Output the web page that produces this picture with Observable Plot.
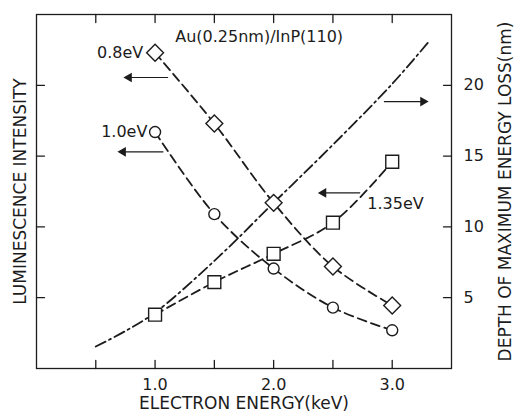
<!DOCTYPE html>
<html><head><meta charset="utf-8">
<script src="https://cdn.jsdelivr.net/npm/d3@7"></script>
<script src="https://cdn.jsdelivr.net/npm/@observablehq/plot@0.6"></script>
<style>body{margin:0;background:#fff}</style>
</head><body><div id="chart"></div>
<script>
// Electron energy (keV) at which luminescence was measured
const energies = [1.0, 1.5, 2.0, 2.5, 3.0];
// Luminescence intensity (arb. units) for each emission line
const intensity08 = [22.3, 17.3, 11.7, 7.2, 4.45];
const intensity10 = [16.7, 10.9, 7.06, 4.3, 2.7];
const intensity135 = [3.8, 6.1, 8.1, 10.3, 14.6];
// Depth of maximum energy loss (nm) vs electron energy
const depthEnergy = [0.5, 0.75, 1.0, 1.5, 2.0, 2.5, 3.0, 3.3];
const depthNm = [1.55, 2.65, 3.95, 7.6, 11.7, 15.8, 20.1, 23.0];
// ticks
const xTicks = [0.5, 1.0, 1.5, 2.0, 2.5, 3.0];
const xTickLabels = [1.0, 2.0, 3.0];
const yTicks = [5, 10, 15, 20];
// annotations
const labelText = ["0.8eV", "1.0eV", "1.35eV", "Au(0.25nm)/InP(110)"];
const labelX = [0.90, 0.935, 2.79, 1.17];
const labelY = [22.3, 16.7, 11.65, 23.4];
const labelAnchor = ["end", "end", "start", "start"];
const arrowX1 = [1.11, 1.07, 2.73, 2.93];
const arrowX2 = [0.78, 0.73, 2.42, 3.26];
const arrowY = [20.55, 15.3, 12.4, 18.85];

const s08 = energies.map((e, i) => ({x: e, y: intensity08[i]}));
const s10 = energies.map((e, i) => ({x: e, y: intensity10[i]}));
const s135 = energies.map((e, i) => ({x: e, y: intensity135[i]}));
const depth = depthEnergy.map((e, i) => ({x: e, y: depthNm[i]}));
const labels = labelText.map((t, i) => ({t, x: labelX[i], y: labelY[i], a: labelAnchor[i]}));
const arrows = arrowX1.map((x1, i) => ({x1, x2: arrowX2[i], y: arrowY[i]}));

const ink = "#1c1c1c";
const font = "DejaVu Sans";
const tickShape = {draw(context, l) { context.moveTo(0, 0); context.lineTo(0, -l); }};

const chart = Plot.plot({
  width: 521,
  height: 418,
  marginLeft: 36,
  marginRight: 70,
  marginTop: 14,
  marginBottom: 50,
  style: {fontFamily: font, fontSize: "16px", color: ink, background: "#fff"},
  x: {domain: [0, 3.5]},
  y: {domain: [0, 25]},
  marks: [
    Plot.frame({stroke: ink, strokeWidth: 1.3}),
    // inward ticks
    Plot.vector(xTicks, {x: d => d, y: 0, length: 8, rotate: 0, anchor: "start", shape: tickShape, stroke: ink, strokeWidth: 1.3}),
    Plot.vector(xTicks, {x: d => d, y: 25, length: 8, rotate: 180, anchor: "start", shape: tickShape, stroke: ink, strokeWidth: 1.3}),
    Plot.vector(yTicks, {x: 0, y: d => d, length: 8, rotate: 90, anchor: "start", shape: tickShape, stroke: ink, strokeWidth: 1.3}),
    Plot.vector(yTicks, {x: 3.5, y: d => d, length: 8, rotate: -90, anchor: "start", shape: tickShape, stroke: ink, strokeWidth: 1.3}),
    // tick labels
    Plot.axisX(xTickLabels, {anchor: "bottom", tickSize: 0, tickPadding: 10, tickFormat: d => d.toFixed(1), label: null, fontSize: 16, fill: ink}),
    Plot.axisY(yTicks, {anchor: "right", tickSize: 0, tickPadding: 12, label: null, fontSize: 16, fill: ink}),
    // axis titles
    Plot.text(["LUMINESCENCE INTENSITY"], {frameAnchor: "left", textAnchor: "middle", dx: -16, rotate: -90, fontSize: 17, fill: ink, text: d => d}),
    Plot.text(["DEPTH OF MAXIMUM ENERGY LOSS(nm)"], {frameAnchor: "right", textAnchor: "middle", dx: 54, rotate: -90, fontSize: 17, fill: ink, text: d => d}),
    Plot.text(["ELECTRON ENERGY(keV)"], {frameAnchor: "bottom", textAnchor: "middle", dy: 40, fontSize: 17, fill: ink, text: d => d}),
    // curves
    Plot.line(depth, {x: "x", y: "y", curve: "catmull-rom", stroke: ink, strokeWidth: 1.8, strokeDasharray: "11,4,2,4"}),
    Plot.line(s08, {x: "x", y: "y", curve: "catmull-rom", stroke: ink, strokeWidth: 1.8, strokeDasharray: "9,5"}),
    Plot.line(s10, {x: "x", y: "y", curve: "catmull-rom", stroke: ink, strokeWidth: 1.8, strokeDasharray: "9,5"}),
    Plot.line(s135, {x: "x", y: "y", curve: "catmull-rom", stroke: ink, strokeWidth: 1.8, strokeDasharray: "9,5"}),
    // markers
    Plot.dot(s08, {x: "x", y: "y", symbol: "diamond2", r: 7.6, fill: "#fff", stroke: ink, strokeWidth: 1.4}),
    Plot.dot(s10, {x: "x", y: "y", symbol: "circle", r: 5.5, fill: "#fff", stroke: ink, strokeWidth: 1.4}),
    Plot.dot(s135, {x: "x", y: "y", symbol: "square2", r: 8.2, fill: "#fff", stroke: ink, strokeWidth: 1.4}),
    // arrows
    Plot.link(arrows, {x1: "x1", x2: "x2", y1: "y", y2: "y", stroke: ink, strokeWidth: 1.1}),
    Plot.dot(arrows, {x: "x2", y: "y", symbol: "triangle", r: 3.6, fill: ink, stroke: "none", rotate: d => d.x2 < d.x1 ? -90 : 90}),
    // labels
    Plot.text(labels, {x: "x", y: "y", text: "t", textAnchor: "start", filter: d => d.a === "start", fontSize: 16, fill: ink}),
    Plot.text(labels, {x: "x", y: "y", text: "t", textAnchor: "end", filter: d => d.a === "end", fontSize: 16, fill: ink})
  ]
});
document.getElementById("chart").appendChild(chart);
</script>
</body></html>
